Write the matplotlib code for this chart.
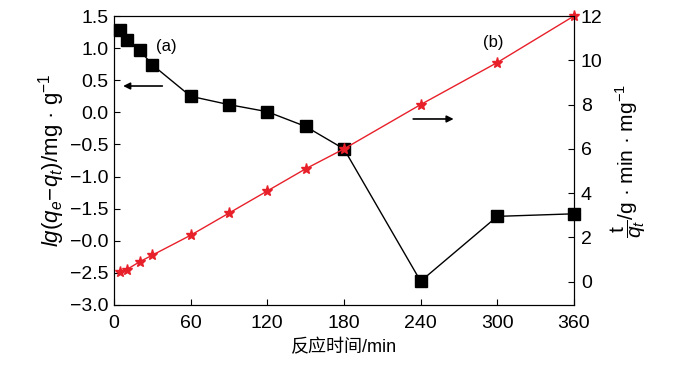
import numpy as np
import matplotlib
matplotlib.use('Agg')
import matplotlib.pyplot as plt

plt.rcParams['font.family'] = ['Liberation Sans', 'Noto Sans CJK SC', 'DejaVu Sans']
plt.rcParams['mathtext.fontset'] = 'custom'
plt.rcParams['mathtext.rm'] = 'Liberation Sans'
plt.rcParams['mathtext.it'] = 'Liberation Sans:italic'
plt.rcParams['font.size'] = 11

# Datos
t_a = [5, 10, 20, 30, 60, 90, 120, 150, 180, 240, 300, 360]
lg_qe_qt = [1.28, 1.13, 0.97, 0.74, 0.25, 0.12, 0.01, -0.22, -0.57, -2.63, -1.62, -1.58]

t_b = [5, 10, 20, 30, 60, 90, 120, 150, 180, 240, 300, 360]
t_qt = [0.42, 0.55, 0.9, 1.2, 2.1, 3.1, 4.1, 5.1, 6.0, 8.0, 9.9, 12.0]

x_ticks = [0, 60, 120, 180, 240, 300, 360]
y1_ticks = [1.5, 1.0, 0.5, 0.0, -0.5, -1.0, -1.5, -2.0, -2.5, -3.0]
y1_labels = ['1.5', '1.0', '0.5', '0.0', '\u22120.5', '\u22121.0', '\u22121.5',
             '\u22120.0', '\u22122.5', '\u22123.0']
y2_ticks = [0, 2, 4, 6, 8, 10, 12]

fig = plt.figure(figsize=(6.98, 3.68), dpi=100)
ax1 = fig.add_axes([0.1633, 0.1712, 0.659, 0.7853])
ax2 = ax1.twinx()

# (a) cinética de pseudo primer orden
ax1.plot(t_a, lg_qe_qt, '-', color='black', linewidth=1.0, clip_on=False,
         marker='s', markersize=8, markerfacecolor='black', markeredgecolor='black')
ax1.set_xlim(0, 360)
ax1.set_ylim(-3.0, 1.5)
ax1.set_xticks(x_ticks)
ax1.set_yticks(y1_ticks)
ax1.set_yticklabels(y1_labels)
ax1.tick_params(axis='both', direction='in', length=4, labelsize=14, top=False, right=False)
ax1.tick_params(axis='x', pad=7)
ax1.tick_params(axis='y', pad=4)
ax1.set_xlabel('反应时间/min', fontsize=13, labelpad=5)
ax1.set_ylabel(r'$lg(q_e\!-\!q_t)$/mg · g$^{-1}$', fontsize=16, labelpad=2)

# (b) cinética de pseudo segundo orden
ax2.plot(t_b, t_qt, '-', color='#e8202a', linewidth=1.0, clip_on=False,
         marker='*', markersize=8, markerfacecolor='#e8202a', markeredgecolor='#e8202a')
ax2.set_ylim(-1.05, 12.0)
ax2.set_yticks(y2_ticks)
ax2.tick_params(direction='in', length=4, labelsize=14, pad=5)
ax2.set_ylabel(r'$\dfrac{\mathrm{t}}{q_t}$/g · min · mg$^{-1}$', fontsize=15, labelpad=4)

# Anotaciones y flechas
ax1.text(41, 1.02, '(a)', fontsize=12, ha='center', va='center')
ax2.text(297, 10.8, '(b)', fontsize=12, ha='center', va='center')
ax1.annotate('', xy=(5, 0.41), xytext=(40, 0.41),
             arrowprops=dict(arrowstyle='-|>', color='black', lw=1.2, mutation_scale=10))
ax2.annotate('', xy=(268, 7.35), xytext=(232, 7.35),
             arrowprops=dict(arrowstyle='-|>', color='black', lw=1.2, mutation_scale=10))

plt.savefig('out.png', dpi=100)
